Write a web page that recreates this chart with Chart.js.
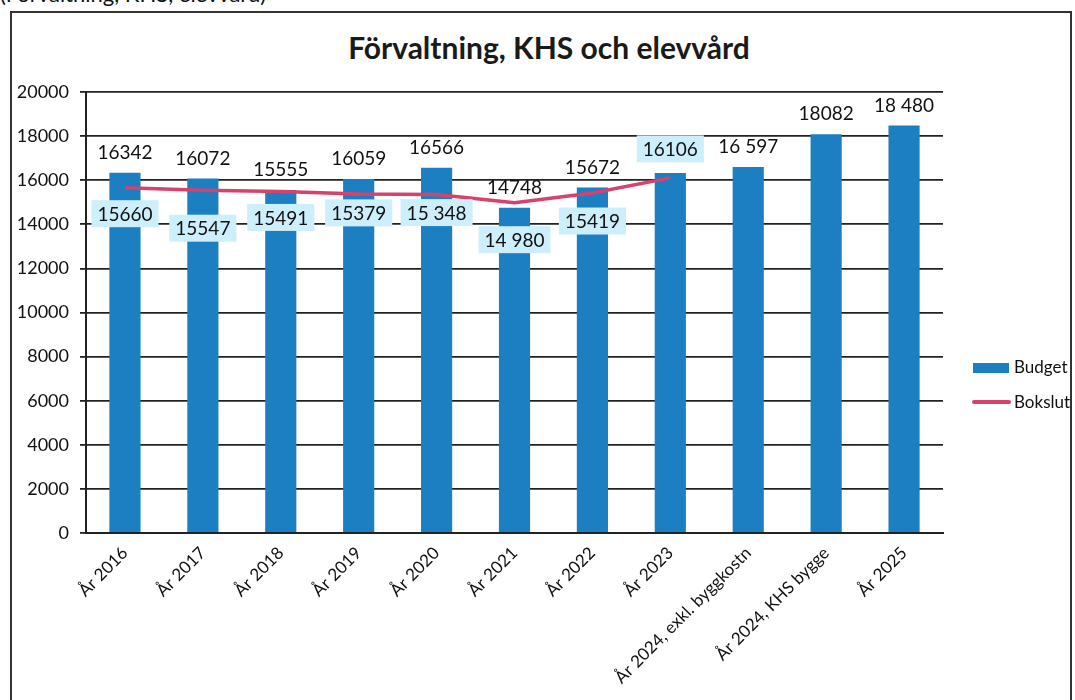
<!DOCTYPE html>
<html>
<head>
<meta charset="utf-8">
<script src="https://cdn.jsdelivr.net/npm/chart.js@4/dist/chart.umd.min.js"></script>
<style>
  html, body { margin: 0; padding: 0; background: #fff; overflow: hidden; }
  #wrap { position: relative; width: 1075px; height: 700px; }
  #frame { position: absolute; left: 10px; top: 11px; width: 1062px; height: 700px; border: 2px solid #333; box-sizing: border-box; }
  #caption { position: absolute; left: 0px; top: -17px; font: 22px Lato, sans-serif; color: #111; white-space: nowrap; line-height: 1; }
  #title { position: absolute; left: 0; width: 1098px; top: 29px; text-align: center; font: bold 30px Lato, sans-serif; color: #1a1a1a; line-height: 36px; }
  canvas { position: absolute; left: 0; top: 0; }
</style>
</head>
<body>
<div id="wrap">
  <div id="caption">(Förvaltning, KHS, elevvård)</div>
  <div id="frame"></div>
  <div id="title">Förvaltning, KHS och elevvård</div>
  <canvas id="c" width="1075" height="700"></canvas>
</div>
<script>
const categories = ['År 2016', 'År 2017', 'År 2018', 'År 2019', 'År 2020', 'År 2021', 'År 2022', 'År 2023', 'År 2024, exkl. byggkostn', 'År 2024, KHS bygge', 'År 2025'];
const budget = [16342, 16072, 15555, 16059, 16566, 14748, 15672, 16330, 16597, 18082, 18480];
const budgetLabels = ['16342', '16072', '15555', '16059', '16566', '14748', '15672', '', '16 597', '18082', '18 480'];
const bokslut = [15660, 15547, 15491, 15379, 15348, 14980, 15419, 16106, null, null, null];
const bokslutLabels = ['15660', '15547', '15491', '15379', '15 348', '14 980', '15419', '16106', '', '', ''];
const yTicks = [0, 2000, 4000, 6000, 8000, 10000, 12000, 14000, 16000, 18000, 20000];

const BAR_COLOR = '#1b7fc1';
const LINE_COLOR = '#d5426b';
const BOX_COLOR = '#cdeefb';
const FONT = 'Lato, sans-serif';
// vertical placement of the Bokslut label boxes, relative to each line point (px)
const bokslutLabelShift = [26, 38, 26, 19, 18, 37, 28, -29, 0, 0, 0];

const labelPlugin = {
  id: 'labels',
  afterDatasetsDraw(chart) {
    const ctx = chart.ctx;
    ctx.save();
    ctx.font = '19px ' + FONT;
    ctx.textAlign = 'center';
    ctx.textBaseline = 'middle';
    const barMeta = chart.getDatasetMeta(0);
    barMeta.data.forEach((el, i) => {
      const t = budgetLabels[i];
      if (!t) return;
      ctx.fillStyle = '#111';
      ctx.fillText(t, el.x, el.y - 20);
    });
    const lineMeta = chart.getDatasetMeta(1);
    lineMeta.data.forEach((el, i) => {
      const t = bokslutLabels[i];
      if (!t || bokslut[i] == null) return;
      const w = ctx.measureText(t).width + 12;
      const h = 27;
      const cy = el.y + bokslutLabelShift[i];
      ctx.fillStyle = BOX_COLOR;
      ctx.fillRect(el.x - w / 2, cy - h / 2, w, h);
      ctx.fillStyle = '#111';
      ctx.fillText(t, el.x, cy + 1);
    });
    ctx.restore();
  },
  afterDraw(chart) {
    const ctx = chart.ctx;
    ctx.save();
    ctx.font = '17px ' + FONT;
    ctx.textBaseline = 'middle';
    ctx.textAlign = 'left';
    const x0 = chart.chartArea.right + 30;
    ctx.fillStyle = BAR_COLOR;
    ctx.fillRect(x0, 363, 36, 10);
    ctx.fillStyle = '#111';
    ctx.fillText(chart.data.datasets[0].label, x0 + 41, 368);
    ctx.strokeStyle = LINE_COLOR;
    ctx.lineWidth = 4;
    ctx.lineCap = 'round';
    ctx.beginPath();
    ctx.moveTo(x0 + 1, 402);
    ctx.lineTo(x0 + 36, 402);
    ctx.stroke();
    ctx.fillText(chart.data.datasets[1].label, x0 + 41, 403);
    ctx.restore();
  }
};

new Chart(document.getElementById('c'), {
  data: {
    labels: categories,
    datasets: [
      {
        type: 'bar',
        label: 'Budget',
        data: budget,
        backgroundColor: BAR_COLOR,
        categoryPercentage: 1.0,
        barPercentage: 0.4,
        order: 2
      },
      {
        type: 'line',
        label: 'Bokslut',
        data: bokslut,
        borderColor: LINE_COLOR,
        borderWidth: 3.5,
        pointRadius: 0,
        tension: 0,
        spanGaps: false,
        order: 1
      }
    ]
  },
  options: {
    responsive: false,
    animation: false,
    layout: { padding: { top: 92, right: 132, left: 0, bottom: 0 } },
    plugins: {
      legend: { display: false },
      title: { display: false },
      tooltip: { enabled: false }
    },
    scales: {
      x: {
        grid: { display: false },
        border: { display: true, color: '#222', width: 2 },
        ticks: {
          maxRotation: 45, minRotation: 45,
          color: '#111',
          font: { family: FONT, size: 17 },
          padding: 2
        },
        afterFit(s) { s.height = 167; }
      },
      y: {
        min: 0, max: 20000,
        afterBuildTicks(s) { s.ticks = yTicks.map(v => ({ value: v })); },
        ticks: {
          color: '#111',
          font: { family: FONT, size: 18 },
          padding: 11,
          callback: v => String(v)
        },
        grid: { color: '#222', lineWidth: 1.8, tickLength: 6, drawTicks: true },
        border: { display: true, color: '#222', width: 2 },
        afterFit(s) { s.width = 86; }
      }
    }
  },
  plugins: [labelPlugin]
});
</script>
</body>
</html>
